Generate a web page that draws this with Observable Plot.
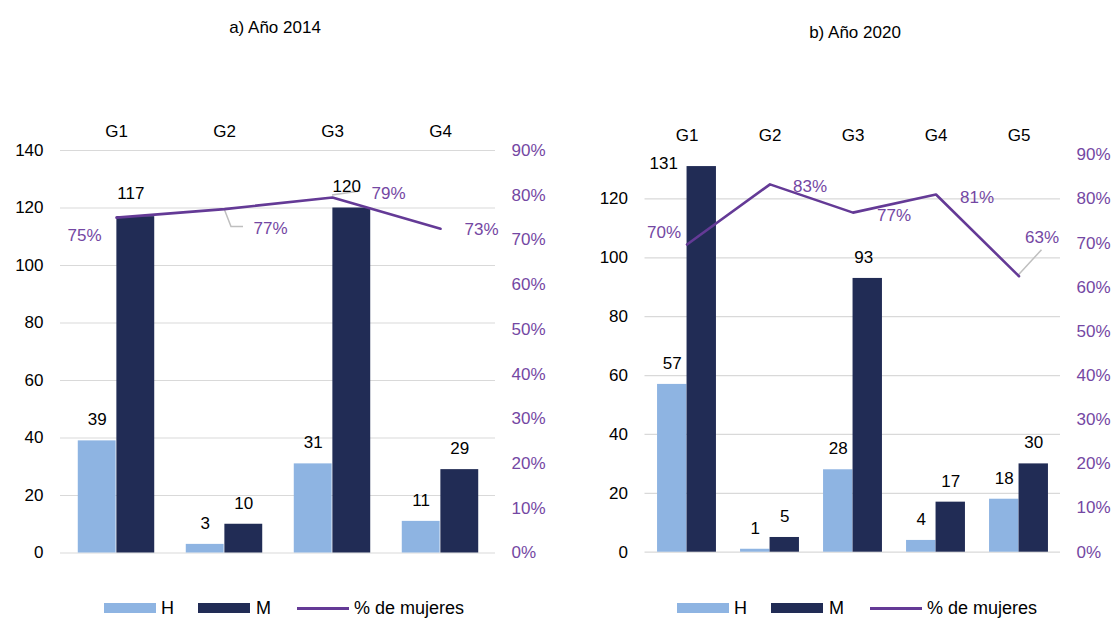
<!DOCTYPE html>
<html><head><meta charset="utf-8">
<script src="https://cdn.jsdelivr.net/npm/d3@7"></script>
<script src="https://cdn.jsdelivr.net/npm/@observablehq/plot@0.6"></script>
<style>
body{margin:0;background:#fff;font-family:"Liberation Sans",Arial,sans-serif;}
#wrap{position:relative;width:1115px;height:619px;overflow:hidden;background:#fff;}
.panel{position:absolute;top:0;}
.title{position:absolute;font-size:17px;color:#000;transform:translate(-50%,-50%);white-space:nowrap;}
.sw{position:absolute;}
.lt{position:absolute;font-size:18px;color:#000;transform:translateY(-50%);white-space:nowrap;line-height:1;}
</style></head>
<body><div id="wrap"></div>
<script>
// ---- data ----
const cats2014 = ["G1", "G2", "G3", "G4"];
const h2014 = [39, 3, 31, 11];
const m2014 = [117, 10, 120, 29];
const pct2014 = [0.75, 0.769, 0.795, 0.725];
const pctLabels2014 = ["75%", "77%", "79%", "73%"];

const cats2020 = ["G1", "G2", "G3", "G4", "G5"];
const h2020 = [57, 1, 28, 4, 18];
const m2020 = [131, 5, 93, 17, 30];
const pct2020 = [0.697, 0.833, 0.769, 0.81, 0.625];
const pctLabels2020 = ["70%", "83%", "77%", "81%", "63%"];

const yTicks2014 = [0, 20, 40, 60, 80, 100, 120, 140];
const yTicks2020 = [0, 20, 40, 60, 80, 100, 120];
const pctTicks = [0, 0.1, 0.2, 0.3, 0.4, 0.5, 0.6, 0.7, 0.8, 0.9];

const titles = ["a) Año 2014", "b) Año 2020"];
const legendLabels = ["H", "M", "% de mujeres"];

// ---- style ----
const colH = "#8eb4e2", colM = "#212c55", colLine = "#643a96", colPct = "#7447a3", colGrid = "#d9d9d9", colLeader = "#bfbfbf";

function leaderMark(cats, vals, leaders) {
  return (index, scales) => {
    const g = d3.create("svg:g");
    const x = scales.x, y = scales.y;
    const half = x.bandwidth ? x.bandwidth() / 2 : 0;
    leaders.forEach(({i, pts}) => {
      const px = x(cats[i]) + half, py = y(vals[i]);
      g.append("path")
        .attr("d", d3.line()(pts.map(([dx, dy]) => [px + dx, py + dy])))
        .attr("fill", "none").attr("stroke", colLeader).attr("stroke-width", 1.5);
    });
    return g.node();
  };
}

function panel(cfg) {
  const {cats, h, m, pct, pctLabels, yMax, yTicks, width, height, mL, mR, mT, mB, barW, pctOffsets, valOffsets, leaders} = cfg;
  const bw = (width - mL - mR) / cats.length;
  const half = bw / 2;
  const pv = pct.map(p => p * yMax / 0.9);
  const idx = cats.map((_, i) => i);
  const marks = [
    Plot.ruleY(yTicks, {stroke: colGrid, strokeWidth: 1.2}),
    Plot.axisX({anchor: "top", tickSize: 0, tickPadding: 14, fontSize: 17, label: null}),
    Plot.axisY(yTicks, {anchor: "left", tickSize: 0, tickPadding: 17, fontSize: 17, label: null}),
    Plot.axisY(pctTicks.map(p => p * yMax / 0.9), {anchor: "right", tickSize: 0, tickPadding: 16, fontSize: 17, label: null,
      tickFormat: d => Math.round(d * 0.9 / yMax * 100) + "%", color: colPct, fill: colPct}),
    Plot.barY(idx, {x: i => cats[i], y: i => h[i], fill: colH, insetLeft: half - barW, insetRight: half}),
    Plot.barY(idx, {x: i => cats[i], y: i => m[i], fill: colM, insetLeft: half, insetRight: half - barW}),
    leaderMark(cats, pv, leaders),
    Plot.line(idx, {x: i => cats[i], y: i => pv[i], stroke: colLine, strokeWidth: 2.6}),
  ];
  idx.forEach(i => {
    const oh = (valOffsets.H && valOffsets.H[i]) || [0, 0];
    const om = (valOffsets.M && valOffsets.M[i]) || [0, 0];
    marks.push(Plot.text([i], {x: j => cats[j], y: j => h[j], text: j => String(h[j]), dx: -barW / 2 + oh[0], dy: -21 + oh[1], fontSize: 17, fill: "#000"}));
    marks.push(Plot.text([i], {x: j => cats[j], y: j => m[j], text: j => String(m[j]), dx: barW / 2 + om[0], dy: -21 + om[1], fontSize: 17, fill: "#000"}));
    const po = pctOffsets[i];
    marks.push(Plot.text([i], {x: j => cats[j], y: j => pv[j], text: j => pctLabels[j], dx: po[0], dy: po[1], fontSize: 17, fill: colPct}));
  });
  return Plot.plot({
    width, height,
    marginLeft: mL, marginRight: mR, marginTop: mT, marginBottom: mB,
    x: {domain: cats, padding: 0, axis: null},
    y: {domain: [0, yMax], axis: null},
    style: {fontFamily: "'Liberation Sans', Arial, sans-serif", fontSize: "17px", color: "#000", background: "transparent", overflow: "visible"},
    marks
  });
}

const wrap = document.getElementById("wrap");

const p1 = panel({
  cats: cats2014, h: h2014, m: m2014, pct: pct2014, pctLabels: pctLabels2014,
  yMax: 140, yTicks: yTicks2014,
  width: 557, height: 575, mL: 60, mR: 62, mT: 150, mB: 22.5, barW: 38.6,
  pctOffsets: [[-32, 18], [46, 19], [56, -4], [41, 1]],
  valOffsets: {M: {0: [-5, -2], 2: [-5, 0]}},
  leaders: [{i: 1, pts: [[0, 0], [7, 18], [19, 18]]}, {i: 2, pts: [[0, -2], [28, -6]]}]
});
p1.classList.add("panel"); p1.style.left = "0px";
wrap.appendChild(p1);

const p2 = panel({
  cats: cats2020, h: h2020, m: m2020, pct: pct2020, pctLabels: pctLabels2020,
  yMax: 135, yTicks: yTicks2020,
  width: 558, height: 575, mL: 87.5, mR: 55, mT: 154.3, mB: 23.3, barW: 29.5,
  pctOffsets: [[-23, -12], [40, 2], [41, 3], [41, 3], [23, -39]],
  valOffsets: {M: {0: [-38, 18], 2: [-4, 0]}},
  leaders: [{i: 4, pts: [[0, -1], [23, -26]]}]
});
p2.classList.add("panel"); p2.style.left = "557px";
wrap.appendChild(p2);

// titles
[[titles[0], 275, 28], [titles[1], 855, 33]].forEach(([t, x, y]) => {
  const d = document.createElement("div");
  d.className = "title"; d.textContent = t;
  d.style.left = x + "px"; d.style.top = y + "px";
  wrap.appendChild(d);
});

// legends
function legend(x0) {
  const items = [
    {type: "rect", color: colH, x: 0, label: legendLabels[0], tx: 57},
    {type: "rect", color: colM, x: 94, label: legendLabels[1], tx: 152},
    {type: "line", color: colLine, x: 193, label: legendLabels[2], tx: 250}
  ];
  const yc = 608;
  items.forEach(it => {
    const s = document.createElement("div");
    s.className = "sw";
    s.style.left = (x0 + it.x) + "px";
    s.style.width = "52px";
    s.style.background = it.color;
    if (it.type === "rect") { s.style.top = (yc - 5) + "px"; s.style.height = "10px"; }
    else { s.style.top = (yc - 1.5) + "px"; s.style.height = "3px"; }
    wrap.appendChild(s);
    const t = document.createElement("div");
    t.className = "lt"; t.textContent = it.label;
    t.style.left = (x0 + it.tx) + "px"; t.style.top = (yc) + "px";
    wrap.appendChild(t);
  });
}
legend(104);
legend(677);
</script>
</body></html>
